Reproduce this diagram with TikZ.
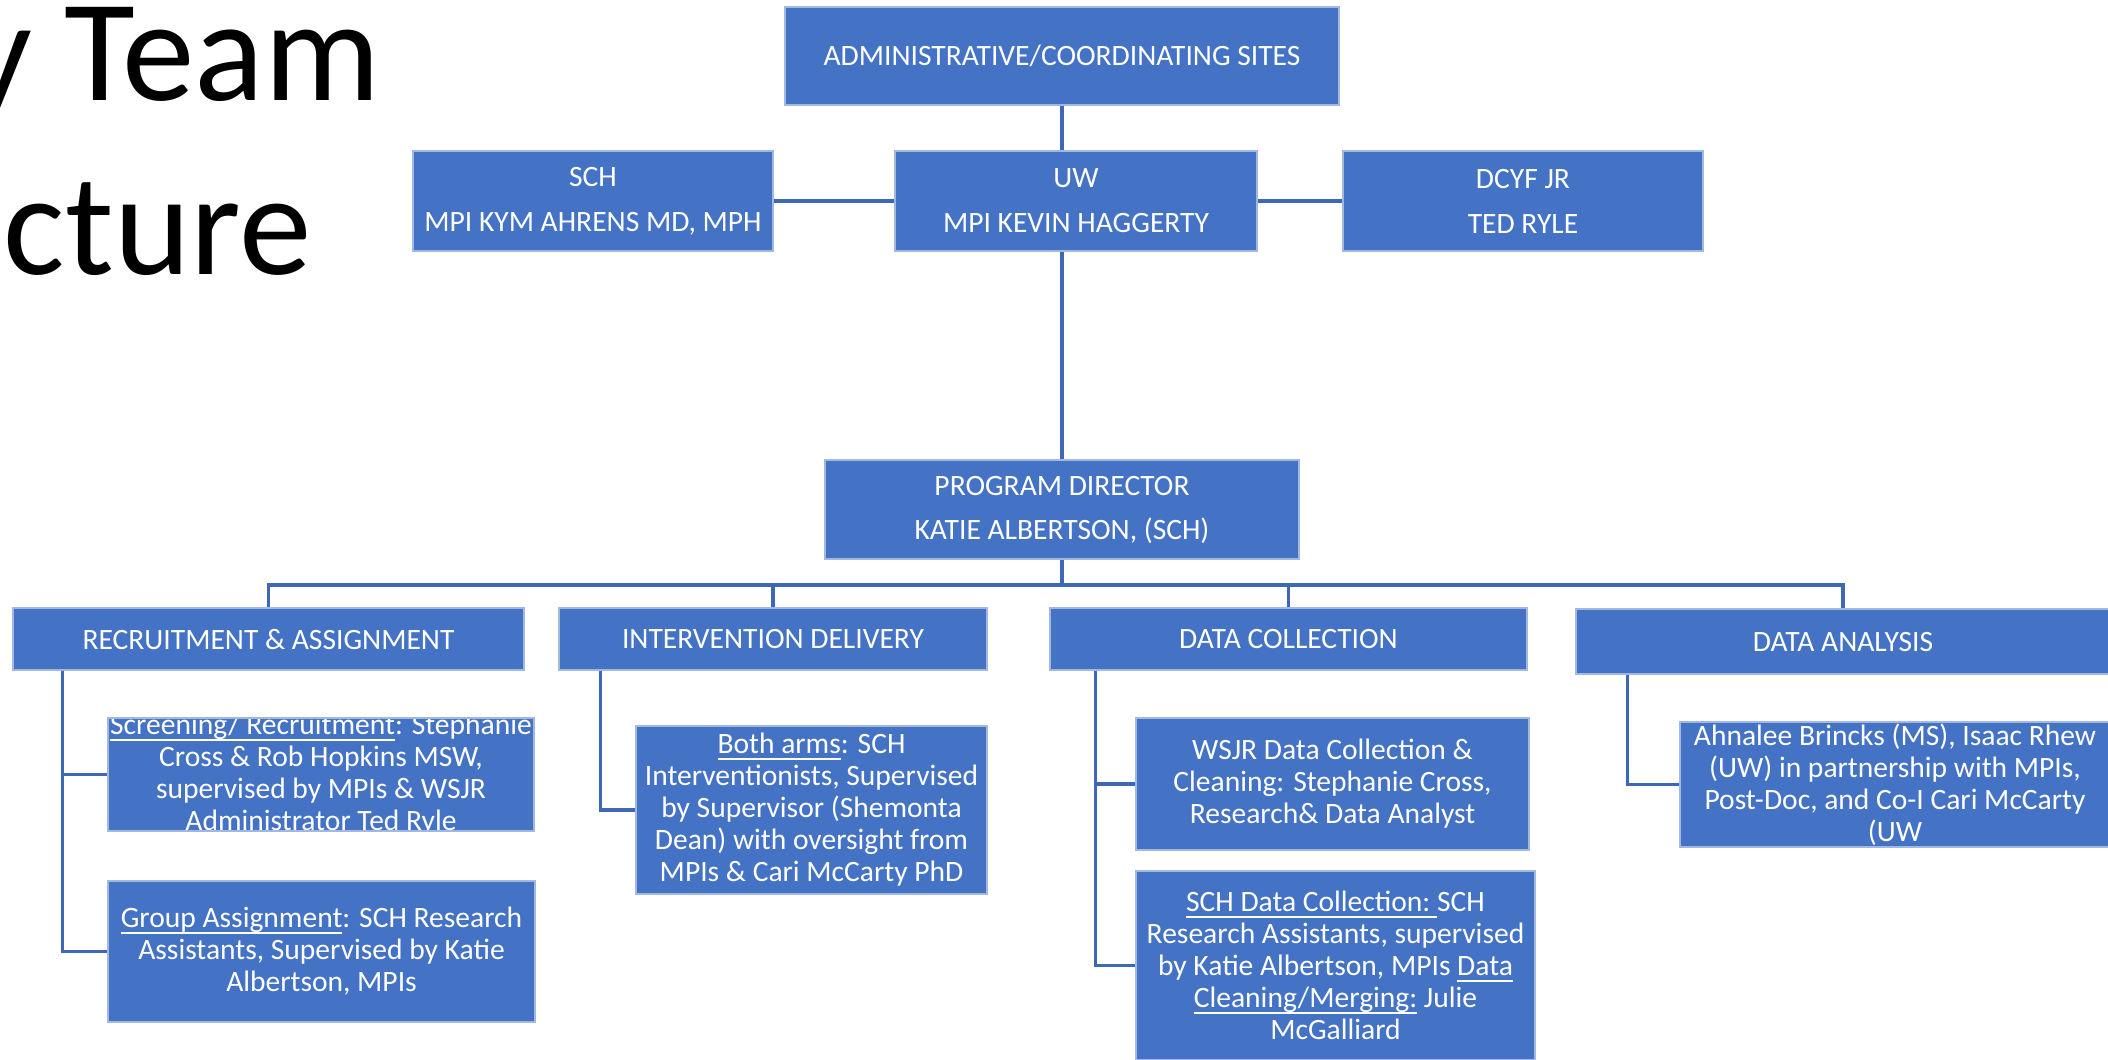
\documentclass[tikz,border=0pt]{standalone}
\usepackage{fontspec}
\setmainfont{Carlito}
\usetikzlibrary{positioning}

\definecolor{boxblue}{RGB}{68,114,196}
\definecolor{boxrim}{RGB}{160,184,226}
\definecolor{linkblue}{RGB}{62,104,180}
\newsavebox{\undlbox}
\newcommand{\undl}[1]{\sbox{\undlbox}{#1}\rlap{\rule[-1.8pt]{\wd\undlbox}{0.5pt}}\usebox{\undlbox}}

\begin{document}
\begin{tikzpicture}[x=0.01cm,y=-0.01cm,
  boxtext/.style={text=white,align=center,inner sep=0pt,font=\fontsize{8.4}{9.1}\selectfont},
  box/.style={boxtext,draw=boxrim,line width=0.4pt,fill=boxblue},
  link/.style={draw=linkblue,line width=0.9pt},
  heading/.style={font=\fontsize{41.3}{49}\selectfont,anchor=base east,inner sep=0pt}]
\useasboundingbox (0,0) rectangle (2108,1059);
\clip (0,0) rectangle (2108,1059);

% title, cut at the left edge
\node[heading] (head1) at (381,100) {y Team};
\node[heading] (head2) at (312,274) {cture};

% sites
\node[box,minimum width=5.54cm,minimum height=0.98cm] (admin) at (1062,56) {ADMINISTRATIVE/COORDINATING SITES};
\node[box,minimum width=3.6cm,minimum height=1cm] (sch) at (593,201) {SCH\\[0.13cm]MPI KYM AHRENS MD, MPH};
\node[box,minimum width=3.62cm,minimum height=1cm] (uw) at (1076,201) {UW\\[0.13cm]MPI KEVIN HAGGERTY};
\node[box,minimum width=3.6cm,minimum height=1cm] (dcyf) at (1523,201) {DCYF JR\\[0.13cm]TED RYLE};
\node[box,minimum width=4.74cm,minimum height=0.99cm] (pd) at (1062,509.5) {PROGRAM DIRECTOR\\[0.12cm]KATIE ALBERTSON, (SCH)};

% teams
\node[box,minimum width=5.11cm,minimum height=0.62cm] (rec) at (268.5,639) {RECRUITMENT \& ASSIGNMENT};
\node[box,minimum width=4.28cm,minimum height=0.62cm] (int) at (773,639) {INTERVENTION DELIVERY};
\node[box,minimum width=4.77cm,minimum height=0.62cm] (dc) at (1288.5,639) {DATA COLLECTION};
\node[box,minimum width=5.34cm,minimum height=0.65cm] (da) at (1843,641.5) {DATA ANALYSIS};

% staff
\node[box,minimum width=4.26cm,minimum height=1.13cm,
  path picture={\node[boxtext] at (path picture bounding box.center) {\undl{Screening/ Recruitment}: Stephanie\\Cross \& Rob Hopkins MSW,\\supervised by MPIs \& WSJR\\Administrator Ted Ryle};}]
  (scr) at (321,774.5) {};
\node[box,minimum width=4.27cm,minimum height=1.41cm] (grp) at (321.5,951.5) {\undl{Group Assignment}: SCH Research\\Assistants, Supervised by Katie\\Albertson, MPIs};
\node[box,minimum width=3.51cm,minimum height=1.68cm] (arms) at (811.5,810) {\undl{Both arms}: SCH\\Interventionists, Supervised\\by Supervisor (Shemonta\\Dean) with oversight from\\MPIs \& Cari McCarty PhD};
\node[box,minimum width=3.93cm,minimum height=1.32cm] (wsjr) at (1332.5,784) {WSJR Data Collection \&\\Cleaning: Stephanie Cross,\\Research\& Data Analyst};
\node[box,minimum width=3.99cm,minimum height=1.89cm] (schdc) at (1335.5,965.5) {\undl{SCH Data Collection:\ }SCH\\Research Assistants, supervised\\by Katie Albertson, MPIs \undl{Data}\\\undl{Cleaning/Merging:} Julie\\McGalliard};
\node[box,minimum width=4.3cm,minimum height=1.25cm] (dasub) at (1895,784.5) {Ahnalee Brincks (MS), Isaac Rhew\\(UW) in partnership with MPIs,\\Post-Doc, and Co-I Cari McCarty\\(UW};

% links
\draw[link] (admin) -- (admin |- uw.north);
\draw[link] (sch) -- (uw);
\draw[link] (uw) -- (dcyf);
\draw[link] (pd |- uw.south) -- (pd);
\coordinate (bus) at (1062,585);
\draw[link] (pd) -- (bus);
\foreach \n in {rec,int,dc,da}
  \draw[link] (\n) |- (bus);

\coordinate (recl) at ([xshift=0.5cm]rec.south west);
\draw[link] (recl) |- (scr);
\draw[link] (recl) |- (grp);
\coordinate (intl) at ([xshift=0.42cm]int.south west);
\draw[link] (intl) |- (arms);
\coordinate (dcl) at ([xshift=0.46cm]dc.south west);
\draw[link] (dcl) |- (wsjr);
\draw[link] (dcl) |- (schdc);
\coordinate (dal) at ([xshift=0.52cm]da.south west);
\draw[link] (dal) |- (dasub);
\end{tikzpicture}
\end{document}
